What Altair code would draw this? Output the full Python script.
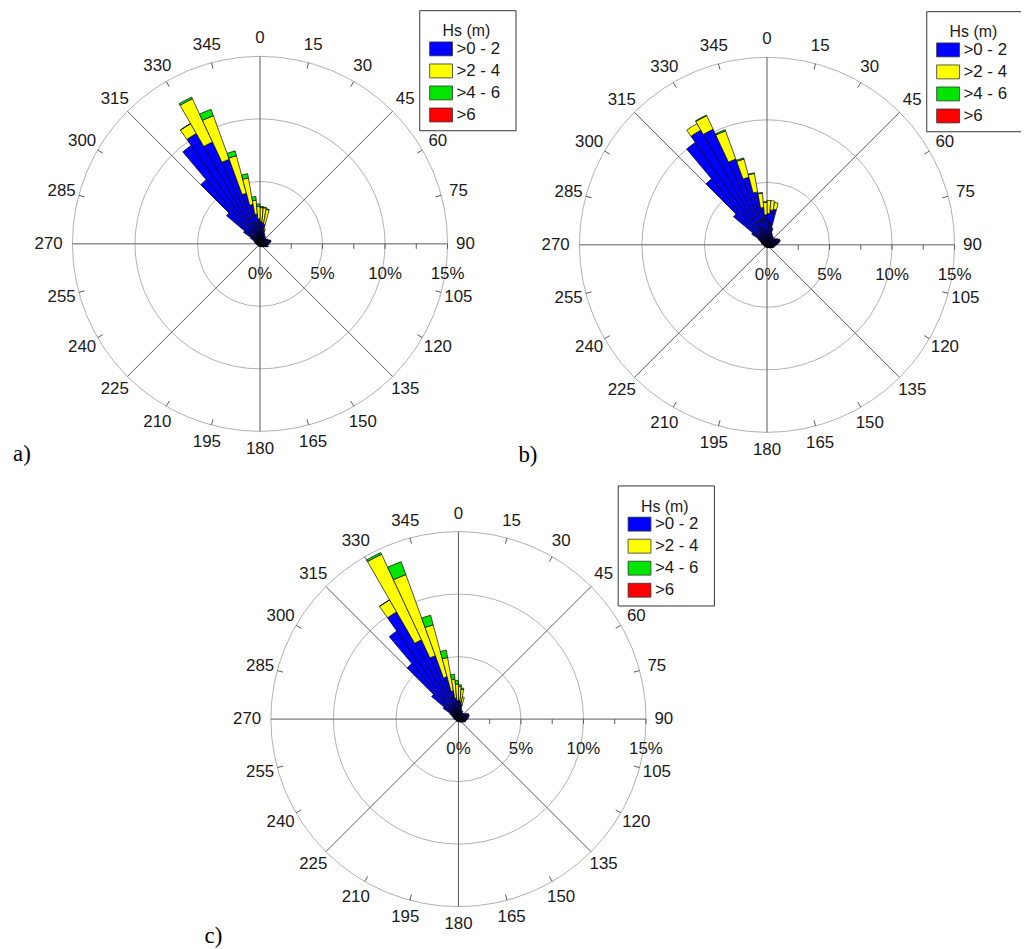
import math
import altair as alt
import pandas as pd

# ---------------- data ----------------
DIRS = list(range(0, 360, 5))          # 5-degree direction bins (bin start)
CLASSES = [">0 - 2", ">2 - 4", ">4 - 6", ">6"]
COLORS = ["#0000ff", "#ffff00", "#00e600", "#ff0000"]
PANELS = ["a", "b", "c"]

# percentage of occurrence per direction bin (72 bins, 0..355)
A_HS0_2 = [1.8, 1.7, 1.6, 1.1, 0.9, 0.8, 0.7, 0.7, 0.6, 0.6, 0.6, 0.7,
           0.7, 0.8, 0.9, 0.9, 0.8, 0.7, 0.7, 0.6, 0.6, 0.7, 0.6, 0.5,
           0.4, 0.4, 0.35, 0.3, 0.3, 0.3, 0.25, 0.25, 0.25, 0.2, 0.2, 0.2,
           0.2, 0.2, 0.2, 0.2, 0.2, 0.2, 0.2, 0.2, 0.2, 0.2, 0.2, 0.2,
           0.2, 0.2, 0.2, 0.25, 0.25, 0.3, 0.3, 0.35, 0.4, 0.45, 0.5, 0.6,
           0.9, 1.6, 3.5, 6.7, 9.6, 10.2, 9.0, 7.2, 4.2, 3.2, 2.4, 2.0]
A_HS2_4 = {0: 1.1, 5: 1.2, 10: 1.2, 15: 0.15, 325: 0.9, 330: 3.8, 335: 3.7,
           340: 3.1, 345: 2.15, 350: 1.1, 355: 1.0}
A_HS4_6 = {0: 0.1, 5: 0.05, 10: 0.05, 325: 0.02, 330: 0.15, 335: 0.55,
           340: 0.4, 345: 0.35, 350: 0.3, 355: 0.2}

B_HS0_2 = [2.5, 2.8, 2.9, 1.4, 1.0, 0.9, 0.8, 0.8, 0.7, 0.7, 0.8, 0.9,
           1.0, 1.1, 1.1, 1.0, 0.9, 0.8, 0.7, 0.6, 0.6, 0.6, 0.5, 0.5,
           0.4, 0.4, 0.35, 0.3, 0.3, 0.3, 0.25, 0.25, 0.25, 0.2, 0.2, 0.2,
           0.2, 0.2, 0.2, 0.2, 0.2, 0.2, 0.2, 0.2, 0.2, 0.2, 0.2, 0.2,
           0.2, 0.2, 0.2, 0.25, 0.25, 0.3, 0.3, 0.35, 0.4, 0.45, 0.5, 0.6,
           0.8, 1.5, 3.5, 6.9, 10.0, 10.6, 10.2, 7.3, 5.6, 4.3, 3.0, 2.4]
B_HS2_4 = {0: 1.05, 5: 0.75, 10: 0.55, 325: 0.6, 330: 1.2, 335: 2.4,
           340: 1.5, 345: 1.5, 350: 1.15, 355: 1.0}
B_HS4_6 = {330: 0.05, 335: 0.1, 340: 0.1, 345: 0.05, 350: 0.05, 355: 0.05}

C_HS0_2 = [1.5, 1.4, 1.2, 0.8, 0.7, 0.7, 0.6, 0.6, 0.6, 0.6, 0.7, 0.8,
           0.9, 0.9, 0.9, 0.8, 0.8, 0.7, 0.7, 0.6, 0.6, 0.6, 0.5, 0.5,
           0.4, 0.4, 0.35, 0.3, 0.3, 0.3, 0.25, 0.25, 0.25, 0.2, 0.2, 0.2,
           0.2, 0.2, 0.2, 0.2, 0.2, 0.2, 0.2, 0.2, 0.2, 0.2, 0.2, 0.2,
           0.2, 0.2, 0.2, 0.25, 0.25, 0.3, 0.3, 0.35, 0.4, 0.45, 0.5, 0.6,
           0.8, 1.5, 2.8, 5.8, 8.6, 9.9, 7.0, 5.4, 3.5, 2.3, 1.7, 1.5]
C_HS2_4 = {0: 1.1, 5: 1.0, 10: 0.6, 325: 1.1, 330: 7.55, 335: 6.9,
           340: 4.3, 345: 2.7, 350: 1.5, 355: 1.3}
C_HS4_6 = {0: 0.15, 5: 0.1, 325: 0.02, 330: 0.15, 335: 1.1, 340: 0.8,
           345: 0.6, 350: 0.4, 355: 0.3}

DATA = {
    "a": [A_HS0_2, A_HS2_4, A_HS4_6, {}],
    "b": [B_HS0_2, B_HS2_4, B_HS4_6, {}],
    "c": [C_HS0_2, C_HS2_4, C_HS4_6, {}],
}

RINGS = [5, 10, 15]
PCT_LABELS = [0, 5, 10, 15]
AX_TICKS = [2.5, 5, 7.5, 10, 12.5, 15]
DIR_LABELS = list(range(0, 360, 15))
SPOKES = [0, 45, 90, 135]

# ---------------- layout ----------------
W, H = 1021, 941
RMAX_PX = 189.0
K = RMAX_PX / 15.0                      # pixels per percent
CENTERS_PX = {"a": (254, 234), "b": (765, 235), "c": (454, 713)}
TAG_OFF_PX = {"a": (-240, 212), "b": (-241, 212), "c": (-247, 219)}
TAGS = {"a": "a)", "b": "b)", "c": "c)"}
LABEL_R_PX = {270: 213.0}
LABEL_R_DEFAULT = 207.0


def center(p):
    return CENTERS_PX[p][0] / K, CENTERS_PX[p][1] / K


def value_at(series, d):
    if isinstance(series, dict):
        return series.get(d, 0.0)
    return series[DIRS.index(d)]


bar_rows, ring_rows, spoke_rows, tick_rows, lab_rows = [], [], [], [], []
axt_rows, pct_rows, box_rows, sw_rows, lt_rows, title_rows, tag_rows = [], [], [], [], [], [], []
for p in PANELS:
    cx, cy = center(p)
    for ci, cls in enumerate(CLASSES):
        for d in DIRS:
            v = value_at(DATA[p][ci], d)
            if v > 0:
                bar_rows.append(dict(panel=p, cx=cx, cy=cy, d0=d, d1=d + 5,
                                     cls=cls, order=ci, value=v))
    for r in RINGS:
        ring_rows.append(dict(panel=p, cx=cx, cy=cy, t0=0, t1=360, r=r))
    for a in SPOKES:
        s, c = math.sin(math.radians(a)), math.cos(math.radians(a))
        spoke_rows.append(dict(x=cx - 15 * s, y=cy + 15 * c, x2=cx + 15 * s, y2=cy - 15 * c))
    for a in DIR_LABELS:
        s, c = math.sin(math.radians(a)), math.cos(math.radians(a))
        lr = LABEL_R_PX.get(a, LABEL_R_DEFAULT) / K
        lab_rows.append(dict(x=cx + lr * s, y=cy - lr * c, t=str(a)))
        if a % 45 != 0:
            r0 = 15 - 6 / K
            tick_rows.append(dict(x=cx + r0 * s, y=cy - r0 * c, x2=cx + 15 * s, y2=cy - 15 * c))
    for r in AX_TICKS:
        axt_rows.append(dict(x=cx + r, y=cy, y2=cy + 5 / K))
    for r in PCT_LABELS:
        pct_rows.append(dict(x=cx + r, y=cy + 30 / K, t=f"{r}%"))
    box_rows.append(dict(x=cx + 161 / K, x2=cx + 258 / K, y=cy - 235 / K, y2=cy - 114 / K))
    title_rows.append(dict(x=cx + 208 / K, y=cy - 214 / K, t="Hs (m)"))
    for i, cls in enumerate(CLASSES):
        top = -203.5 + 22.2 * i
        sw_rows.append(dict(x=cx + 171 / K, x2=cx + 194 / K, y=cy + top / K,
                            y2=cy + (top + 14) / K, cls=cls))
        lt_rows.append(dict(x=cx + 198 / K, y=cy + (top + 7) / K, t=cls))
    tag_rows.append(dict(x=cx + TAG_OFF_PX[p][0] / K, y=cy + TAG_OFF_PX[p][1] / K, t=TAGS[p]))

bars = pd.DataFrame(bar_rows)

# ---------------- scales ----------------
xs = alt.Scale(domain=[0, W / K], range=[0, W], nice=False, zero=False)
ys = alt.Scale(domain=[0, H / K], range=[0, H], nice=False, zero=False)
ts = alt.Scale(domain=[0, 360], range=[0, 2 * math.pi], nice=False, zero=False)
rs = alt.Scale(type="linear", domain=[0, 15], range=[0, RMAX_PX], nice=False, zero=True)
cs = alt.Scale(domain=CLASSES, range=COLORS)


def X(f):
    return alt.X(f, type="quantitative", scale=xs, axis=None)


def Y(f):
    return alt.Y(f, type="quantitative", scale=ys, axis=None)


FONT = "Liberation Sans"
TXT = "#1a1a1a"

rings = alt.Chart(pd.DataFrame(ring_rows)).mark_arc(
    fill="#ffffff", fillOpacity=0, stroke="#b0b0b0", strokeWidth=1
).encode(
    x=X("cx"), y=Y("cy"),
    theta=alt.Theta("t0:Q", scale=ts, stack=False), theta2="t1:Q",
    radius=alt.Radius("r:Q", scale=rs, stack=False),
)

spokes = alt.Chart(pd.DataFrame(spoke_rows)).mark_rule(color="#5a5a5a", strokeWidth=1).encode(
    x=X("x"), y=Y("y"), x2="x2:Q", y2="y2:Q")

dticks = alt.Chart(pd.DataFrame(tick_rows)).mark_rule(color="#5a5a5a", strokeWidth=1).encode(
    x=X("x"), y=Y("y"), x2="x2:Q", y2="y2:Q")

axticks = alt.Chart(pd.DataFrame(axt_rows)).mark_rule(color="#5a5a5a", strokeWidth=1).encode(
    x=X("x"), y=Y("y"), y2="y2:Q")

wedges = alt.Chart(bars).transform_stack(
    stack="value", groupby=["panel", "d0"], sort=[alt.SortField("order")], as_=["r0", "r1"]
).mark_arc(stroke="#000000", strokeWidth=0.7).encode(
    x=X("cx"), y=Y("cy"),
    theta=alt.Theta("d0:Q", scale=ts, stack=False), theta2="d1:Q",
    radius=alt.Radius("r1:Q", scale=rs, stack=False), radius2="r0:Q",
    color=alt.Color("cls:N", scale=cs, legend=None),
)

labels = alt.Chart(pd.DataFrame(lab_rows)).mark_text(
    font=FONT, fontSize=17, color=TXT, align="center", baseline="middle"
).encode(x=X("x"), y=Y("y"), text="t:N")

pct = alt.Chart(pd.DataFrame(pct_rows)).mark_text(
    font=FONT, fontSize=17, color=TXT, align="center", baseline="middle"
).encode(x=X("x"), y=Y("y"), text="t:N")

box = alt.Chart(pd.DataFrame(box_rows)).mark_rect(
    fill="#ffffff", stroke="#333333", strokeWidth=1
).encode(x=X("x"), x2="x2:Q", y=Y("y"), y2="y2:Q")

title = alt.Chart(pd.DataFrame(title_rows)).mark_text(
    font=FONT, fontSize=16, color=TXT, align="center", baseline="middle"
).encode(x=X("x"), y=Y("y"), text="t:N")

swatch = alt.Chart(pd.DataFrame(sw_rows)).mark_rect(stroke="#333333", strokeWidth=0.8).encode(
    x=X("x"), x2="x2:Q", y=Y("y"), y2="y2:Q",
    color=alt.Color("cls:N", scale=cs, legend=None))

ltext = alt.Chart(pd.DataFrame(lt_rows)).mark_text(
    font=FONT, fontSize=17, color=TXT, align="left", baseline="middle"
).encode(x=X("x"), y=Y("y"), text="t:N")

tags = alt.Chart(pd.DataFrame(tag_rows)).mark_text(
    font="Liberation Serif", fontSize=23, color="#000000", align="center", baseline="middle"
).encode(x=X("x"), y=Y("y"), text="t:N")

chart = alt.layer(
    rings, spokes, dticks, axticks, wedges, labels, pct, box, title, swatch, ltext, tags
).properties(
    width=W, height=H, padding=0, autosize=alt.AutoSizeParams(type="none")
).configure_view(strokeWidth=0)

chart.save("out.html", embed_options={"renderer": "svg", "actions": False})
